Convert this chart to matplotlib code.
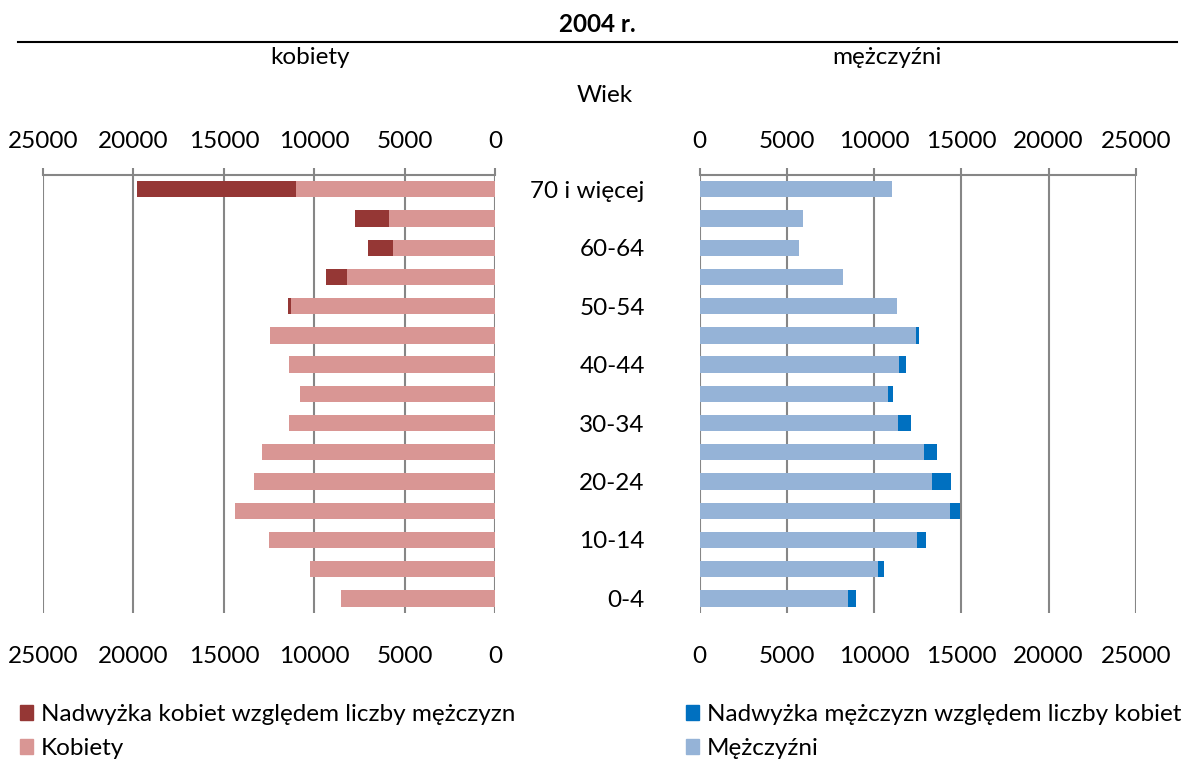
import matplotlib
matplotlib.use("Agg")
import matplotlib.pyplot as plt
from matplotlib.patches import Patch
from matplotlib.lines import Line2D
import numpy as np

plt.rcParams['font.family'] = ['Lato', 'DejaVu Sans']

age_groups = ["0-4", "5-9", "10-14", "15-19", "20-24", "25-29", "30-34", "35-39",
              "40-44", "45-49", "50-54", "55-59", "60-64", "65-69", "70 i więcej"]
# women (common part = min of women/men) and women's surplus
kobiety = [8530, 10220, 12490, 14390, 13320, 12880, 11400, 10800,
           11420, 12440, 11290, 8220, 5660, 5880, 11000]
nadwyzka_kobiet = [0, 0, 0, 0, 0, 0, 0, 0,
                   0, 0, 190, 1120, 1360, 1860, 8820]
# men (common part) and men's surplus
mezczyzni = [8520, 10230, 12480, 14350, 13320, 12860, 11370, 10800,
             11430, 12420, 11300, 8200, 5680, 5910, 11000]
nadwyzka_mezczyzn = [420, 320, 500, 560, 1110, 770, 730, 270,
                     380, 140, 0, 0, 0, 0, 0]
ticks = [0, 5000, 10000, 15000, 20000, 25000]
tick_labels = ["0", "5000", "10000", "15000", "20000", "25000"]

C_DARK_RED = "#953735"
C_PINK = "#D99694"
C_LIGHT_BLUE = "#95B3D7"
C_DARK_BLUE = "#0070C0"
C_GRID = "#868686"

W, H = 1182, 760
fig = plt.figure(figsize=(W / 100, H / 100), dpi=100)

def fx(px):
    return px / W

def fy(py):
    return 1 - py / H

FS = 17.5
ax_bottom = fy(613)
ax_h = fy(174.7) - fy(613)
axL = fig.add_axes([fx(43), ax_bottom, fx(495.3) - fx(43), ax_h])
axR = fig.add_axes([fx(699.7), ax_bottom, fx(1135.7) - fx(699.7), ax_h])

y = np.arange(len(age_groups))
bh = 0.56

axL.barh(y, kobiety, height=bh, color=C_PINK, zorder=2)
axL.barh(y, nadwyzka_kobiet, left=kobiety, height=bh, color=C_DARK_RED, zorder=2)
axR.barh(y, mezczyzni, height=bh, color=C_LIGHT_BLUE, zorder=2)
axR.barh(y, nadwyzka_mezczyzn, left=mezczyzni, height=bh, color=C_DARK_BLUE, zorder=2)

for ax, inv in ((axL, True), (axR, False)):
    ax.set_xlim((25000, 0) if inv else (0, 25000))
    ax.set_ylim(-0.5, len(age_groups) - 0.5)
    ax.set_axisbelow(True)
    ax.grid(axis='x', color=C_GRID, lw=1.5)
    ax.grid(axis='y', visible=False)
    for s in ('left', 'right', 'bottom'):
        ax.spines[s].set_visible(False)
    ax.spines['top'].set_color(C_GRID)
    ax.spines['top'].set_linewidth(1.5)
    ax.set_xticks(ticks)
    ax.set_xticklabels(tick_labels, fontsize=FS)
    ax.tick_params(axis='x', bottom=False, top=False, labelbottom=True, labeltop=False,
                   pad=20)
    sec = ax.secondary_xaxis('top')
    sec.set_xticks(ticks)
    sec.set_xticklabels(tick_labels, fontsize=FS)
    sec.tick_params(axis='x', direction='out', length=5, width=1.5, color=C_GRID, pad=11)
    sec.spines['top'].set_visible(False)

axL.set_yticks([])
axR.set_yticks(y[::2])
axR.set_yticklabels(age_groups[::2], fontsize=FS)
axR.tick_params(axis='y', left=False, right=False, pad=36)

# texts
fig.text(fx(597), fy(25), "2004 r.", fontsize=FS, fontweight='bold', ha='center', va='center')
fig.add_artist(Line2D([fx(18), fx(1177)], [fy(42), fy(42)], color='black', lw=1.5))
fig.text(fx(310), fy(58), "kobiety", fontsize=FS, ha='center', va='center')
fig.text(fx(887), fy(58), "mężczyźni", fontsize=FS, ha='center', va='center')
fig.text(fx(605), fy(95), "Wiek", fontsize=FS, ha='center', va='center')

leg_kw = dict(frameon=False, fontsize=FS, handlelength=0.55, handleheight=0.55,
              handletextpad=0.3, labelspacing=0.55, borderpad=0, borderaxespad=0,
              loc='upper left')
h1 = [Patch(color=C_DARK_RED, label="Nadwyżka kobiet względem liczby mężczyzn"),
      Patch(color=C_PINK, label="Kobiety")]
h2 = [Patch(color=C_DARK_BLUE, label="Nadwyżka mężczyzn względem liczby kobiet"),
      Patch(color=C_LIGHT_BLUE, label="Mężczyźni")]
l1 = fig.legend(handles=h1, bbox_to_anchor=(fx(20), fy(704)), **leg_kw)
l2 = fig.legend(handles=h2, bbox_to_anchor=(fx(686), fy(704)), **leg_kw)

fig.savefig("out.png", dpi=100)
